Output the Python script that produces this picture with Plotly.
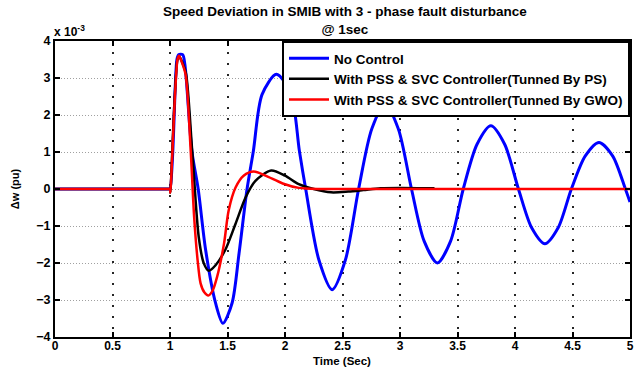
import plotly.graph_objects as go

# Values in units of 1e-3 pu
t_blue = [0, 0.5, 0.95, 0.99, 1.0, 1.06, 1.075, 1.11, 1.13, 1.19, 1.245, 1.31, 1.396, 1.46, 1.54, 1.60, 1.67,
          1.725, 1.80, 1.925, 2.05, 2.125, 2.18, 2.295, 2.41, 2.525, 2.64, 2.755, 2.87, 2.985,
          3.10, 3.21, 3.325, 3.44, 3.55, 3.67, 3.79, 3.91, 4.03, 4.145, 4.26, 4.375, 4.49,
          4.61, 4.73, 4.85, 4.96, 5.0]
w_blue = [0, 0, 0, 0, 0, 3.5, 3.63, 3.63, 3.35, 1.03, 0, -1.65, -3.08, -3.63, -3.08, -1.75, 0,
          1.03, 2.55, 3.1, 2.6, 1.03, 0, -1.92, -2.72, -1.92, 0, 1.63, 2.30, 1.63,
          0, -1.41, -2.0, -1.41, 0, 1.21, 1.71, 1.21, 0, -1.05, -1.48, -1.05, 0,
          0.89, 1.26, 0.89, 0, -0.35]

t_ps = [0, 0.5, 0.95, 0.99, 1.0, 1.003, 1.065, 1.08, 1.11, 1.14, 1.193, 1.25, 1.294, 1.337, 1.396, 1.48, 1.57,
        1.657, 1.743, 1.88, 2.0, 2.12, 2.25, 2.40, 2.55, 2.68, 2.83, 3.0, 3.3]
w_ps = [0, 0, 0, 0, 0, -0.1, 3.5, 3.58, 3.4, 3.1, 1.03, -1.30, -2.01, -2.21, -2.06, -1.65, -0.94,
        -0.23, 0.22, 0.50, 0.36, 0.13, 0.0, -0.09, -0.07, -0.03, 0.02, 0.03, 0.02]

t_gwo = [0, 0.5, 0.95, 0.99, 1.0, 1.003, 1.065, 1.078, 1.10, 1.135, 1.18, 1.21, 1.24, 1.266, 1.30, 1.333, 1.37,
         1.41, 1.47, 1.51, 1.57, 1.64, 1.73, 1.83, 1.98, 2.12, 2.3, 2.5, 3.0, 3.5, 4.0, 4.5, 4.95, 5.0]
w_gwo = [0, 0, 0, 0, 0, -0.1, 3.5, 3.6, 3.45, 3.1, 1.03, -0.76, -1.92, -2.55, -2.8, -2.88, -2.75,
         -2.37, -1.47, -0.58, 0.04, 0.36, 0.47, 0.36, 0.15, 0.03, 0.0, 0.0, 0.0, 0.0, 0.0, 0.0, 0.0, 0.0]

names = ["No Control",
         "With PSS & SVC Controller(Tunned By PS)",
         "With PSS & SVC Controller(Tunned By GWO)"]
colors = ["#0000ff", "#000000", "#ff0000"]
widths = [3, 2.5, 2.5]

x_ticks = [0, 0.5, 1, 1.5, 2, 2.5, 3, 3.5, 4, 4.5, 5]
x_ticktext = ["0", "0.5", "1", "1.5", "2", "2.5", "3", "3.5", "4", "4.5", "5"]
y_ticks = [-4, -3, -2, -1, 0, 1, 2, 3, 4]

title_text = "Speed Deviation in SMIB with 3 - phase fault disturbance<br>@ 1sec"
x_title = "Time (Sec)"
y_title = "Δw (pu)"

FONT = "Liberation Sans"
L, R, T, B = 55, 11, 41, 31
PH = 368 - T - B
PW = 641 - L - R

fig = go.Figure()
for t, w, n, c, lw in zip([t_blue, t_ps, t_gwo], [w_blue, w_ps, w_gwo], names, colors, widths):
    fig.add_trace(go.Scatter(x=t, y=w, mode="lines", name=n,
                             line=dict(color=c, width=lw, shape="spline", smoothing=0.8)))

fig.update_layout(
    width=641, height=368,
    margin=dict(l=L, r=R, t=T, b=B),
    paper_bgcolor="white", plot_bgcolor="white",
    font=dict(family=FONT, size=12, color="black", weight="bold"),
    showlegend=True,
    legend=dict(x=1, xanchor="right", y=1, yanchor="top",
                bgcolor="white", bordercolor="black", borderwidth=2,
                font=dict(family=FONT, size=13.5, weight="bold", color="black"),
                tracegroupgap=0, itemwidth=40),
)

fig.update_xaxes(range=[0, 5], tickvals=x_ticks, ticktext=x_ticktext, automargin=False,
                 showline=True, linecolor="black", linewidth=2, mirror="ticks",
                 ticks="inside", ticklen=5, tickwidth=2, tickcolor="black",
                 showgrid=True, gridcolor="rgba(0,0,0,0.85)", griddash="2px,9px", gridwidth=1.5,
                 zeroline=False, ticklabelstandoff=-3,
                 tickfont=dict(family=FONT, size=12, weight="bold"))
fig.update_yaxes(range=[-4, 4], tickvals=y_ticks, automargin=False,
                 showline=True, linecolor="black", linewidth=2, mirror="ticks",
                 ticks="inside", ticklen=5, tickwidth=2, tickcolor="black",
                 showgrid=True, gridcolor="rgba(120,120,120,0.7)", griddash="1px,2px", gridwidth=1,
                 zeroline=False,
                 tickfont=dict(family=FONT, size=12.5, weight="bold"),
                 title=dict(text=y_title, standoff=14,
                            font=dict(family=FONT, size=11, weight="bold")))

# X-axis title
fig.add_annotation(text=x_title, xref="paper", yref="paper",
                   x=(342 - L) / PW, y=-(368 - (368 - B)) / PH, xanchor="center", yanchor="bottom",
                   showarrow=False, borderpad=0,
                   font=dict(family=FONT, size=11.5, weight="bold", color="black"))

# Title (two lines)
fig.add_annotation(text=title_text, xref="paper", yref="paper",
                   x=(345 - L) / PW, y=1 + (T - 20.5) / PH, xanchor="center", yanchor="middle",
                   showarrow=False, borderpad=0,
                   font=dict(family=FONT, size=13.5, weight="bold", color="black"))

fig.add_annotation(text="x 10<sup>-3</sup>", xref="paper", yref="paper", x=0, y=1,
                   xanchor="left", yanchor="bottom", showarrow=False, yshift=0, xshift=-3,
                   font=dict(family=FONT, size=12, weight="bold", color="black"))

fig.write_html("out.html", config={"displayModeBar": False},
               post_script="document.body.style.margin='0';")
